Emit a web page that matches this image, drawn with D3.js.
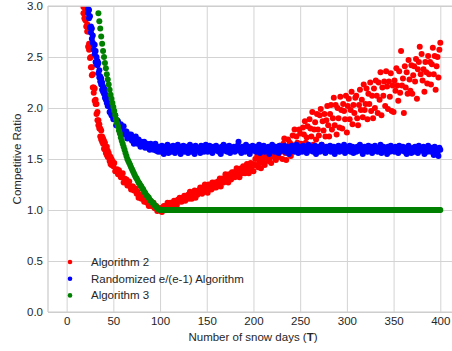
<!DOCTYPE html>
<html>
<head>
<meta charset="utf-8">
<script src="https://cdn.jsdelivr.net/npm/d3@7"></script>
<style>
  body { margin: 0; background: #fff; }
  svg { display: block; }
  text { font-family: "Liberation Sans", Arial, sans-serif; fill: #262626; }
</style>
</head>
<body>
<svg id="chart" width="452" height="351"></svg>
<script>
// tick values
const xTicks = [0, 50, 100, 150, 200, 250, 300, 350, 400];
const yTicks = [0, 0.5, 1.0, 1.5, 2.0, 2.5, 3.0];

const seriesNames = ["Algorithm 2", "Randomized e/(e-1) Algorithm", "Algorithm 3"];

// Algorithm 2 : one value per snow day, starting at T = 18
const algo2Start = 18;
const algo2 = [
  2.99,2.88,2.95,2.94,2.75,2.60,2.63,2.60,2.40,2.40,
  2.20,2.20,2.19,2.04,2.04,1.88,1.88,1.80,1.72,1.78,
  1.72,1.65,1.60,1.66,1.60,1.62,1.52,1.52,1.53,1.45,
  1.50,1.46,1.43,1.46,1.38,1.39,1.40,1.35,1.39,1.35,
  1.32,1.35,1.36,1.27,1.31,1.28,1.30,1.24,1.26,1.28,
  1.23,1.20,1.23,1.23,1.19,1.19,1.21,1.16,1.18,1.12,
  1.15,1.13,1.11,1.15,1.12,1.08,1.11,1.09,1.07,1.10,
  1.04,1.07,1.07,1.04,1.05,1.07,1.02,1.02,1.04,0.99,
  1.01,1.01,
  // T = 100 ..
  1.02,0.99,0.98,1.02,1.04,1.02,1.04,1.01,1.07,1.03,
  1.05,1.07,1.03,1.07,1.06,1.09,1.06,1.08,1.05,1.10,
  1.08,1.12,1.10,1.08,1.12,1.10,1.14,1.09,1.13,1.12,
  1.15,1.11,1.18,1.15,1.11,1.17,1.14,1.19,1.12,1.17,
  1.15,1.19,1.17,1.22,1.19,1.16,1.22,1.18,1.25,1.20,
  1.22,1.17,1.25,1.21,1.24,1.20,1.27,1.24,1.22,1.27,
  1.22,1.26,1.28,1.26,1.31,1.23,1.29,1.31,1.27,1.30,
  1.35,1.29,1.32,1.27,1.35,1.33,1.30,1.37,1.33,1.37,
  1.32,1.37,1.41,1.35,1.40,1.32,1.38,1.41,1.36,1.43,
  1.40,1.36,1.43,1.45,1.39,1.36,1.43,1.46,1.40,1.45,
  1.38,1.44,1.50,1.44,1.53,1.42,1.49,1.46,1.41,1.53,
  1.50,1.46,1.44,1.54,1.51,1.57,1.48,1.50,1.56,1.46,
  1.58,1.55,1.52,1.62,1.49,1.56,1.59,1.52,1.63,1.57,
  // T = 230 ..
  1.60,1.50,1.65,1.70,1.56,1.49,1.62,1.69,1.56,1.66,
  1.53,1.64,1.73,1.62,1.79,1.59,1.72,1.66,1.57,1.79,
  1.75,1.65,1.61,1.81,1.74,1.87,1.66,1.71,1.82,1.62,
  1.89,1.80,1.72,1.96,1.64,1.79,1.86,1.69,1.94,1.79,
  1.73,1.93,1.99,1.64,1.87,1.78,1.94,1.72,1.88,2.02,
  1.83,1.72,1.94,2.03,1.79,1.90,2.10,1.83,2.03,1.74,
  2.00,1.90,1.81,2.11,1.98,1.80,2.04,1.97,1.89,2.12,
  1.76,2.02,2.09,1.89,1.98,2.16,1.84,2.03,1.95,2.10,
  2.12,1.90,1.83,2.03,2.18,1.98,2.08,1.91,2.23,1.98,
  2.04,2.19,1.89,2.14,2.04,2.25,1.97,2.12,1.90,2.19,
  2.00,2.27,2.12,1.95,2.25,2.08,2.35,1.93,2.20,2.12,
  2.26,2.02,2.36,2.21,1.99,2.26,2.11,2.34,1.97,2.22,
  1.96,2.27,2.17,2.39,2.22,2.07,2.36,2.15,2.56,2.22,
  2.29,1.95,2.41,2.20,2.35,2.14,2.47,2.28,2.17,2.42,
  2.14,2.32,2.41,2.26,2.48,2.09,2.38,2.45,2.60,2.33,
  2.53,2.27,2.38,2.16,2.45,2.35,2.24,2.51,2.33,2.45,
  2.23,2.43,2.59,2.33,2.51,2.18,2.41,2.50,2.30,2.57,
  2.64
];
// second sample on the steep early part, T = 18 .. 50
const algo2Run2 = [
  2.93,2.99,2.86,2.80,2.82,2.75,2.57,2.49,2.50,2.32,
  2.33,2.15,2.07,2.08,1.94,1.96,1.83,1.84,1.80,1.69,
  1.67,1.70,1.68,1.59,1.56,1.54,1.58,1.56,1.48,1.52,
  1.44,1.48,1.46
];

// Randomized e/(e-1) : starting at T = 23
const randStart = 23;
const randomized = [
  2.97,2.96,2.79,2.80,2.78,2.64,2.62,2.62,2.45,2.50,
  2.42,2.44,2.30,2.31,2.29,2.18,2.21,2.14,2.18,2.08,
  2.09,2.08,2.02,1.96,2.00,2.01,1.92,1.92,1.89,1.93,
  1.83,1.88,1.87,1.82,1.80,1.84,1.80,1.77,1.82,1.74,
  1.77,1.77,1.70,1.73,1.74,1.70,1.74,1.68,1.71,1.65,
  1.70,1.72,1.67,1.65,1.69,1.66,1.62,1.67,1.65,1.63,
  1.67,1.61,1.63,1.65,1.61,1.64,1.59,1.65,1.61,1.63,
  1.59,1.64,1.65,1.58,1.62,1.57,1.62,
  // T = 100 ..
  1.61,1.57,1.63,1.59,1.55,1.62,1.60,1.58,1.64,1.56,
  1.60,1.62,1.57,1.61,1.63,1.58,1.56,1.61,1.59,1.64,
  1.58,1.60,1.55,1.62,1.59,1.63,1.57,1.60,1.62,1.58,
  1.56,1.61,1.64,1.59,1.57,1.62,1.60,1.55,1.63,1.59,
  1.61,1.58,1.60,1.56,1.63,1.59,1.62,1.57,1.60,1.64,
  1.59,1.57,1.61,1.63,1.58,1.60,1.56,1.62,1.59,1.61,
  1.63,1.58,1.60,1.57,1.61,1.55,1.62,1.59,1.64,1.58,
  1.60,1.62,1.57,1.59,1.63,1.56,1.61,1.58,1.60,1.62,
  1.57,1.61,1.59,1.63,1.67,1.58,1.60,1.56,1.62,1.59,
  1.61,1.57,1.64,1.60,1.58,1.62,1.55,1.61,1.59,1.63,
  1.58,1.60,1.62,1.57,1.61,1.59,1.64,1.56,1.60,1.62,
  1.59,1.63,1.57,1.61,1.58,1.60,1.62,1.55,1.59,1.61,
  1.64,1.58,1.60,1.57,1.62,1.59,1.61,1.56,1.63,1.60,
  1.58,1.61,1.59,1.63,1.57,1.60,1.62,1.58,1.55,1.61,
  1.60,1.63,1.58,1.61,1.57,1.59,1.64,1.60,1.56,1.62,
  1.59,1.61,1.57,1.63,1.60,1.58,1.62,1.56,1.60,1.64,
  1.61,1.58,1.60,1.62,1.57,1.59,1.63,1.55,1.61,1.59,
  1.62,1.57,1.60,1.64,1.58,1.61,1.59,1.56,1.62,1.60,
  1.58,1.61,1.63,1.57,1.60,1.59,1.62,1.55,1.61,1.58,
  1.60,1.63,1.57,1.61,1.59,1.62,1.58,1.64,1.56,1.60,
  1.61,1.58,1.60,1.63,1.57,1.59,1.62,1.56,1.61,1.59,
  1.57,1.62,1.60,1.58,1.64,1.59,1.61,1.55,1.60,1.62,
  1.59,1.61,1.57,1.63,1.58,1.60,1.62,1.56,1.59,1.61,
  1.63,1.58,1.60,1.57,1.61,1.59,1.64,1.56,1.60,1.62,
  1.58,1.61,1.59,1.55,1.62,1.60,1.57,1.63,1.59,1.61,
  1.60,1.57,1.62,1.58,1.61,1.56,1.63,1.59,1.60,1.58,
  1.62,1.59,1.57,1.61,1.55,1.60,1.63,1.58,1.60,1.56,
  1.59,1.61,1.57,1.62,1.58,1.60,1.56,1.63,1.59,1.61,
  1.58,1.60,1.62,1.55,1.61,1.59,1.57,1.63,1.58,1.60,
  1.57,1.61,1.59,1.54,1.62,1.58,1.60,1.56,1.53,1.61,
  1.59
];
// second sample on the steep early part, T = 23 .. 50
const randomizedRun2 = [
  2.93,2.88,2.90,2.74,2.68,2.71,2.57,2.53,2.56,2.43,
  2.46,2.34,2.37,2.26,2.23,2.25,2.16,2.19,2.10,2.13,
  2.05,2.02,2.05,2.03,1.95,1.93,1.97,1.89
];

// Algorithm 3 : starting at T = 34
const algo3Start = 34;
const algo3 = [
  2.93,2.85,2.78,2.70,2.63,2.56,2.50,2.44,2.39,2.33,
  2.28,2.23,2.18,2.13,2.09,2.05,2.01,1.97,1.93,1.89,
  1.85,1.82,1.78,1.75,1.71,1.68,1.65,1.62,1.59,1.56,
  1.53,1.50,1.48,1.46,1.44,1.42,1.40,1.38,1.36,1.34,
  1.32,1.31,1.29,1.27,1.26,1.24,1.23,1.21,1.20,1.18,
  1.17,1.15,1.14,1.13,1.12,1.10,1.09,1.08,1.07,1.06,
  1.05,1.04,1.03,1.02,1.01,1.005,
  // T = 100 .. 400
  1,1,1,1,1,1,1,1,1,1,1,1,1,1,1,1,1,1,1,1,
  1,1,1,1,1,1,1,1,1,1,1,1,1,1,1,1,1,1,1,1,
  1,1,1,1,1,1,1,1,1,1,1,1,1,1,1,1,1,1,1,1,
  1,1,1,1,1,1,1,1,1,1,1,1,1,1,1,1,1,1,1,1,
  1,1,1,1,1,1,1,1,1,1,1,1,1,1,1,1,1,1,1,1,
  1,1,1,1,1,1,1,1,1,1,1,1,1,1,1,1,1,1,1,1,
  1,1,1,1,1,1,1,1,1,1,1,1,1,1,1,1,1,1,1,1,
  1,1,1,1,1,1,1,1,1,1,1,1,1,1,1,1,1,1,1,1,
  1,1,1,1,1,1,1,1,1,1,1,1,1,1,1,1,1,1,1,1,
  1,1,1,1,1,1,1,1,1,1,1,1,1,1,1,1,1,1,1,1,
  1,1,1,1,1,1,1,1,1,1,1,1,1,1,1,1,1,1,1,1,
  1,1,1,1,1,1,1,1,1,1,1,1,1,1,1,1,1,1,1,1,
  1,1,1,1,1,1,1,1,1,1,1,1,1,1,1,1,1,1,1,1,
  1,1,1,1,1,1,1,1,1,1,1,1,1,1,1,1,1,1,1,1,
  1,1,1,1,1,1,1,1,1,1,1,1,1,1,1,1,1,1,1,1,
  1
];

const colors = ["#ff0000", "#0000ff", "#008000"];

var svg = d3.select("#chart");
var plotL = 48, plotR = 458, plotT = 6, plotB = 312;
var fontSize = "11.5px";

var x = d3.scaleLinear().domain([-19.95, 418.95]).range([plotL, plotR]);
var y = d3.scaleLinear().domain([0, 3]).range([plotB, plotT]);

// grid + tick labels
var gx = svg.append("g")
  .attr("transform", "translate(0," + plotB + ")")
  .call(d3.axisBottom(x).tickValues(xTicks).tickFormat(d3.format("d"))
    .tickSize(-(plotB - plotT)).tickPadding(5));
var gy = svg.append("g")
  .attr("transform", "translate(" + plotL + ",0)")
  .call(d3.axisLeft(y).tickValues(yTicks).tickFormat(d3.format(".1f"))
    .tickSize(-(plotR - plotL)).tickPadding(5));
[gx, gy].forEach(g => {
  g.select(".domain").remove();
  g.selectAll(".tick line").attr("stroke", "#d3d3d3").attr("stroke-width", 1);
  g.selectAll(".tick text")
    .style("font-family", '"Liberation Sans", Arial, sans-serif')
    .style("font-size", fontSize)
    .attr("fill", "#262626");
});

// points, clipped to the axes box
svg.append("clipPath").attr("id", "plot-clip")
  .append("rect").attr("x", plotL).attr("y", plotT)
  .attr("width", plotR - plotL).attr("height", plotB - plotT);

// drawing order: red, blue, green (green on top)
var series = [
  { start: algo2Start, values: algo2, c: 0 },
  { start: algo2Start, values: algo2Run2, c: 0 },
  { start: randStart, values: randomized, c: 1 },
  { start: randStart, values: randomizedRun2, c: 1 },
  { start: algo3Start, values: algo3, c: 2 }
];

var gPts = svg.append("g").attr("clip-path", "url(#plot-clip)");
series.forEach(s => {
  gPts.append("g").selectAll("circle")
    .data(s.values)
    .enter()
    .append("circle")
    .attr("cx", (d, i) => x(s.start + i))
    .attr("cy", d => y(d))
    .attr("r", 3)
    .attr("fill", colors[s.c]);
});

// spines
svg.append("line").attr("x1", plotL).attr("x2", plotL).attr("y1", plotT).attr("y2", plotB)
  .attr("stroke", "#cccccc").attr("stroke-width", 1.25);
svg.append("line").attr("x1", plotL).attr("x2", plotR).attr("y1", plotB).attr("y2", plotB)
  .attr("stroke", "#cccccc").attr("stroke-width", 1.25);
svg.append("line").attr("x1", plotL).attr("x2", plotR).attr("y1", plotT).attr("y2", plotT)
  .attr("stroke", "#cccccc").attr("stroke-width", 1.25);

// axis labels
var xl = svg.append("text")
  .attr("x", (plotL + plotR) / 2).attr("y", 341)
  .attr("text-anchor", "middle")
  .style("font-size", fontSize);
xl.append("tspan").text("Number of snow days (");
xl.append("tspan").attr("font-weight", "bold").text("T");
xl.append("tspan").text(")");

svg.append("text")
  .attr("transform", "translate(21," + (plotT + plotB) / 2 + ") rotate(-90)")
  .attr("text-anchor", "middle")
  .style("font-size", fontSize)
  .text("Competitive Ratio");

// legend
var legend = svg.append("g");
seriesNames.forEach((name, i) => {
  var ly = 262 + i * 16.7;
  legend.append("circle").attr("cx", 70).attr("cy", ly).attr("r", 2.3).attr("fill", colors[i]);
  legend.append("text").attr("x", 91).attr("y", ly + 4)
    .style("font-size", fontSize).text(name);
});
</script>
</body>
</html>
